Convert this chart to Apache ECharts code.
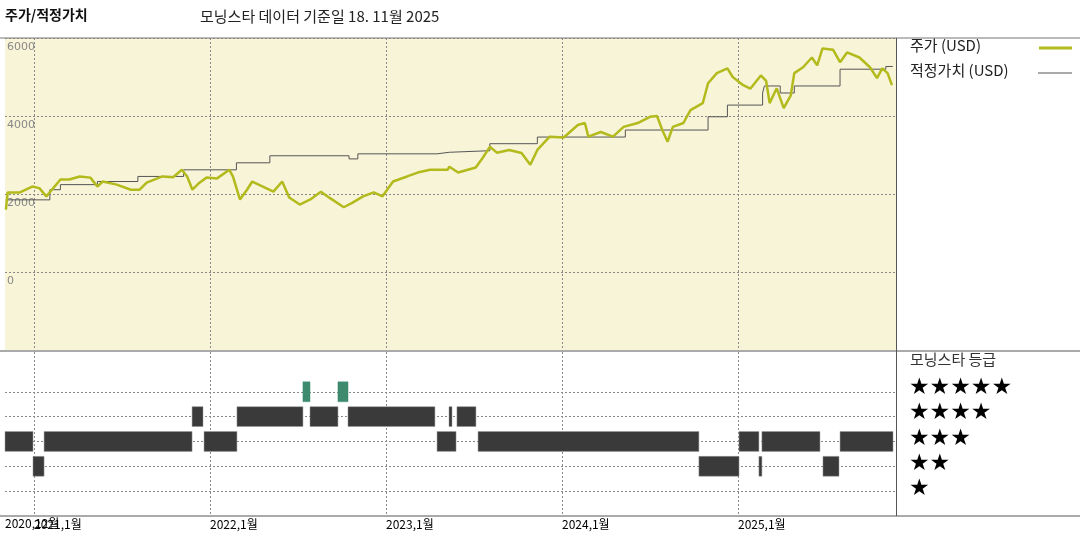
<!DOCTYPE html>
<html><head><meta charset="utf-8">
<script src="https://cdn.jsdelivr.net/npm/echarts@6/dist/echarts.min.js"></script>
<style>html,body{margin:0;padding:0;background:#fff}#c{width:1080px;height:540px}</style>
</head><body><div id="c"></div>
<script>
// time in decimal years
const priceT = [2020.84,2020.85,2020.92,2020.99,2021.03,2021.07,2021.15,2021.20,2021.26,2021.32,2021.36,2021.39,2021.47,2021.55,2021.60,2021.64,2021.73,2021.79,2021.84,2021.87,2021.90,2021.94,2021.98,2022.04,2022.11,2022.13,2022.17,2022.21,2022.24,2022.30,2022.36,2022.41,2022.45,2022.51,2022.57,2022.63,2022.68,2022.76,2022.81,2022.87,2022.93,2022.98,2023.04,2023.12,2023.18,2023.25,2023.35,2023.36,2023.41,2023.51,2023.55,2023.59,2023.63,2023.70,2023.77,2023.82,2023.86,2023.93,2024.01,2024.09,2024.13,2024.15,2024.22,2024.29,2024.35,2024.43,2024.50,2024.54,2024.57,2024.60,2024.63,2024.69,2024.73,2024.80,2024.83,2024.88,2024.94,2024.97,2025.03,2025.07,2025.13,2025.16,2025.18,2025.22,2025.26,2025.30,2025.32,2025.37,2025.42,2025.45,2025.48,2025.54,2025.58,2025.62,2025.69,2025.75,2025.79,2025.82,2025.85,2025.875];
const priceV = [1600,2040,2040,2190,2150,1940,2370,2370,2450,2420,2190,2320,2240,2110,2110,2290,2450,2430,2620,2450,2110,2290,2420,2400,2620,2450,1860,2110,2320,2190,2060,2320,1910,1730,1860,2060,1900,1660,1780,1940,2040,1940,2320,2450,2550,2620,2620,2700,2550,2680,2930,3210,3060,3130,3050,2750,3130,3470,3450,3770,3820,3470,3590,3470,3720,3820,3980,4000,3640,3340,3720,3820,4150,4330,4840,5100,5220,5000,4790,4700,5040,4900,4330,4710,4200,4530,5100,5250,5500,5300,5730,5700,5380,5630,5500,5250,4970,5220,5100,4790];
const fairT = [2020.84,2021.09,2021.15,2021.36,2021.59,2021.85,2022.15,2022.34,2022.79,2022.84,2023.29,2023.36,2023.59,2023.86,2024.36,2024.83,2024.94,2025.14,2025.15,2025.24,2025.32,2025.58,2025.84,2025.88];
const fairV = [1850,2110,2240,2320,2450,2620,2800,2980,2900,3030,3070,3110,3290,3460,3640,3980,4280,4590,4770,4590,4770,5200,5270,5270];
// rating segments: start, end, stars
const ratingStart = [2020.835,2021.057,2021.966,2023.290,2023.523,2025.006,2025.136,2025.580, 2021.898,2022.153,2022.568,2022.784,2023.358,2023.403, 2022.528,2022.727, 2020.994,2024.778,2025.119,2025.483];
const ratingEnd   = [2020.994,2021.898,2022.153,2023.398,2024.778,2025.119,2025.466,2025.881, 2021.960,2022.528,2022.727,2023.278,2023.375,2023.511, 2022.568,2022.784, 2021.057,2025.006,2025.136,2025.574];
const ratingStars = [3,3,3,3,3,3,3,3, 4,4,4,4,4,4, 5,5, 2,2,2,2];
const XMIN=2020.835, XMAX=2025.898;
const yearTicks = [2021,2022,2023,2024,2025];
const yearLabels = ['2021,1월','2022,1월','2023,1월','2024,1월','2025,1월'];
const firstLabel = '2020,12월';
const priceTicks = [0,2000,4000,6000];

const price = priceT.map((t,i)=>[t,priceV[i]]);
const fair = fairT.map((t,i)=>[t,fairV[i]]);
const ratings = ratingStart.map((s,i)=>[s,ratingEnd[i],ratingStars[i]]);
const FONT='"Noto Sans CJK KR", sans-serif';
const dash={type:[2,2],color:'#888',width:1};

const chart = echarts.init(document.getElementById('c'));
chart.setOption({
  animation:false,
  textStyle:{fontFamily:FONT},
  grid:[
    {left:5,right:184,top:38,height:312,show:true,backgroundColor:'#f8f4d8',borderWidth:0},
    {left:5,right:184,top:352,height:164,show:false}
  ],
  xAxis:[
    {gridIndex:0,type:'value',min:XMIN,max:XMAX,axisLine:{show:false},axisTick:{show:false,customValues:yearTicks},
     axisLabel:{show:false,customValues:yearTicks},splitLine:{show:true,lineStyle:dash}},
    {gridIndex:1,type:'value',min:XMIN,max:XMAX,axisLine:{show:false},axisTick:{show:false,customValues:yearTicks},
     axisLabel:{show:true,customValues:yearTicks,formatter:(v)=>yearLabels[yearTicks.indexOf(Math.round(v))]||'',color:'#000',fontSize:12,align:'left',margin:2,fontFamily:FONT},
     splitLine:{show:true,lineStyle:dash}}
  ],
  yAxis:[
    {gridIndex:0,type:'value',min:-2000,max:6000,axisLine:{show:false},axisTick:{show:false,customValues:priceTicks},
     axisLabel:{show:true,inside:true,customValues:priceTicks,formatter:v=>String(v),color:'#888',fontSize:11,verticalAlign:'top',padding:[4,0,0,0],margin:2,fontFamily:'DejaVu Sans'},
     splitLine:{show:true,lineStyle:dash}},
    {gridIndex:1,type:'value',min:0,max:6.6,axisLine:{show:false},axisTick:{show:false,customValues:[1,2,3,4,5]},
     axisLabel:{show:false,customValues:[1,2,3,4,5]},splitLine:{show:true,lineStyle:dash}}
  ],
  series:[
    {type:'line',xAxisIndex:0,yAxisIndex:0,data:fair,step:'end',showSymbol:false,lineStyle:{color:'#555',width:1}},
    {type:'line',xAxisIndex:0,yAxisIndex:0,data:price,showSymbol:false,lineStyle:{color:'#b2ba1c',width:2.5}},
    {type:'custom',xAxisIndex:1,yAxisIndex:1,data:ratings,
     renderItem:(p,api)=>{
       const a=api.coord([api.value(0),api.value(2)]);
       const b=api.coord([api.value(1),api.value(2)]);
       const h=api.size([0,0.8])[1];
       const g=api.value(2)===5;
       return {type:'rect',shape:{x:a[0],y:a[1]-h/2,width:Math.max(b[0]-a[0],1.5),height:h},
         style:{fill:g?'#3e8a6e':'#3a3a3a',stroke:g?'#3e8a6e':'#999',lineWidth:0.5}};
     }}
  ],
  graphic:[
    {type:'line',shape:{x1:0,y1:38,x2:1080,y2:38},style:{stroke:'#777',lineWidth:1}},
    {type:'line',shape:{x1:0,y1:351,x2:1080,y2:351},style:{stroke:'#555',lineWidth:1}},
    {type:'line',shape:{x1:0,y1:516,x2:1080,y2:516},style:{stroke:'#555',lineWidth:1}},
    {type:'line',shape:{x1:896.5,y1:38,x2:896.5,y2:516},style:{stroke:'#555',lineWidth:1}},
    {type:'text',left:5,top:517,style:{text:firstLabel,font:'12px '+FONT,fill:'#000'}},
    {type:'text',left:5,top:8,style:{text:'주가/적정가치',font:'bold 14px '+FONT,fill:'#111'}},
    {type:'text',left:200,top:9,style:{text:'모닝스타 데이터 기준일 18. 11월 2025',font:'15px '+FONT,fill:'#222'}},
    {type:'text',left:910,top:38,style:{text:'주가 (USD)',font:'15px '+FONT,fill:'#222'}},
    {type:'text',left:910,top:63,style:{text:'적정가치 (USD)',font:'15px '+FONT,fill:'#222'}},
    {type:'line',shape:{x1:1039,y1:48,x2:1072,y2:48},style:{stroke:'#b2ba1c',lineWidth:3}},
    {type:'line',shape:{x1:1038,y1:73,x2:1072,y2:73},style:{stroke:'#555',lineWidth:1}},
    {type:'text',left:910,top:352,style:{text:'모닝스타 등급',font:'15px '+FONT,fill:'#333'}},
    {type:'text',left:909,top:377,style:{text:'★★★★★',font:'23px "DejaVu Sans"',fill:'#000'}},
    {type:'text',left:909,top:402,style:{text:'★★★★',font:'23px "DejaVu Sans"',fill:'#000'}},
    {type:'text',left:909,top:428,style:{text:'★★★',font:'23px "DejaVu Sans"',fill:'#000'}},
    {type:'text',left:909,top:453,style:{text:'★★',font:'23px "DejaVu Sans"',fill:'#000'}},
    {type:'text',left:909,top:478,style:{text:'★',font:'23px "DejaVu Sans"',fill:'#000'}}
  ]
});
</script></body></html>
